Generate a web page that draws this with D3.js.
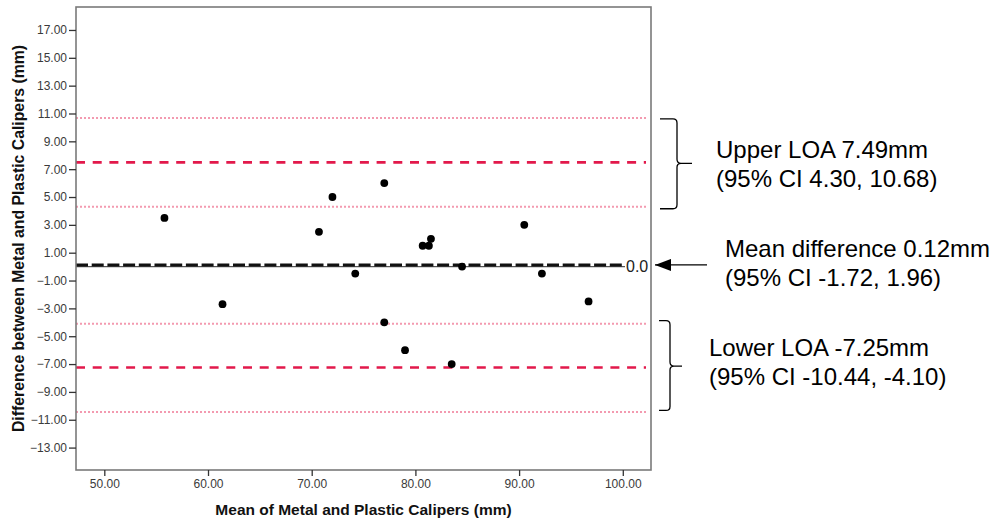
<!DOCTYPE html>
<html>
<head>
<meta charset="utf-8">
<script src="https://cdn.jsdelivr.net/npm/d3@7"></script>
<style>
  html, body { margin: 0; padding: 0; background: #fff; }
  svg { display: block; font-family: "Liberation Sans", Arial, sans-serif; }
</style>
</head>
<body>
<svg id="chart" width="992" height="521"></svg>
<script>
// ---- data ----
const meanVals = [55.8, 61.4, 70.7, 72.0, 77.0, 74.2, 77.0, 79.0, 83.5, 80.7, 81.3, 81.5, 84.5, 90.5, 92.2, 96.7];
const diffVals = [3.5, -2.7, 2.5, 5.0, 6.0, -0.5, -4.0, -6.0, -7.0, 1.5, 1.5, 2.0, 0.0, 3.0, -0.5, -2.5];
const xTicks = [50, 60, 70, 80, 90, 100];
const yTicks = [17, 15, 13, 11, 9, 7, 5, 3, 1, -1, -3, -5, -7, -9, -11, -13];
const meanDiff = 0.12;
const meanCI = [-1.72, 1.96];
const upperLOA = 7.49;
const upperCI = [4.30, 10.68];
const lowerLOA = -7.25;
const lowerCI = [-10.44, -4.10];
const refValue = 0;
const xTitle = "Mean of Metal and Plastic Calipers (mm)";
const yTitle = "Difference between Metal and Plastic Calipers (mm)";
const upperText = ["Upper LOA 7.49mm", "(95% CI 4.30, 10.68)"];
const meanText = ["Mean difference 0.12mm", "(95% CI -1.72, 1.96)"];
const lowerText = ["Lower LOA -7.25mm", "(95% CI -10.44, -4.10)"];

// ---- layout ----
const frame = { left: 76, right: 651, top: 7, bottom: 470 };
const x = d3.scaleLinear().domain([47.27, 102.72]).range([frame.left, frame.right]);
const y = d3.scaleLinear().domain([18.65, -14.61]).range([frame.top, frame.bottom]);

const svg = d3.select("#chart");
const lineEnd = 646;

// reference lines
function hline(v, color, width, dash, x2) {
  svg.append("line")
    .attr("x1", frame.left).attr("x2", x2 || lineEnd)
    .attr("y1", y(v)).attr("y2", y(v))
    .attr("stroke", color).attr("stroke-width", width)
    .attr("stroke-dasharray", dash || null);
}
[upperCI[0], upperCI[1], lowerCI[0], lowerCI[1]].forEach(v => hline(v, "#f39ab0", 2, "2,2"));
[upperLOA, lowerLOA].forEach(v => hline(v, "#e2194b", 2.6, "9,7.7"));
hline(refValue, "#555", 1.2, null, 625);
hline(meanDiff, "#111", 3, "12,3.7", 625);

// ref line label
svg.append("text")
  .attr("x", 626).attr("y", y(refValue) + 5.5)
  .attr("font-size", 16).attr("fill", "#222")
  .text(d3.format(".1f")(refValue));

// frame
svg.append("rect")
  .attr("x", frame.left).attr("y", frame.top)
  .attr("width", frame.right - frame.left).attr("height", frame.bottom - frame.top)
  .attr("fill", "none").attr("stroke", "#7a7a7a").attr("stroke-width", 1.6);

// axes
const yAxis = d3.axisLeft(y).tickValues(yTicks).tickFormat(d3.format(".2f"))
  .tickSize(7).tickPadding(2).tickSizeOuter(0);
const gy = svg.append("g").attr("transform", `translate(${frame.left},0)`).call(yAxis);
gy.select(".domain").remove();
gy.selectAll(".tick line").attr("stroke", "#333").attr("stroke-width", 1.3);
gy.selectAll(".tick text").attr("fill", "#3a3a3a").attr("font-size", 12)
  .attr("font-family", "'Liberation Sans', Arial, sans-serif");

const xAxis = d3.axisBottom(x).tickValues(xTicks).tickFormat(d3.format(".2f"))
  .tickSize(6).tickPadding(3).tickSizeOuter(0);
const gx = svg.append("g").attr("transform", `translate(0,${frame.bottom})`).call(xAxis);
gx.select(".domain").remove();
gx.selectAll(".tick line").attr("stroke", "#333").attr("stroke-width", 1.3);
gx.selectAll(".tick text").attr("fill", "#3a3a3a").attr("font-size", 12)
  .attr("font-family", "'Liberation Sans', Arial, sans-serif");

// axis titles
svg.append("text")
  .attr("x", (frame.left + frame.right) / 2).attr("y", 515)
  .attr("text-anchor", "middle").attr("font-weight", "bold").attr("font-size", 15.5)
  .attr("fill", "#111").text(xTitle);
svg.append("text")
  .attr("transform", `translate(24,${(frame.top + frame.bottom) / 2}) rotate(-90)`)
  .attr("text-anchor", "middle").attr("font-weight", "bold").attr("font-size", 15.8)
  .attr("fill", "#111").text(yTitle);

// points
svg.append("g").selectAll("circle")
  .data(meanVals.map((m, i) => [m, diffVals[i]]))
  .join("circle")
  .attr("cx", d => x(d[0])).attr("cy", d => y(d[1]))
  .attr("r", 3.9).attr("fill", "#000");

// braces
function brace(xl, xv, xt, top, mid, bot) {
  const r = 4;
  const p = d3.path();
  p.moveTo(xl, top);
  p.lineTo(xv - r, top);
  p.quadraticCurveTo(xv, top, xv, top + r);
  p.lineTo(xv, mid - r);
  p.quadraticCurveTo(xv, mid, xv + r, mid);
  p.lineTo(xt, mid);
  p.moveTo(xv + r, mid);
  p.quadraticCurveTo(xv, mid, xv, mid + r);
  p.lineTo(xv, bot - r);
  p.quadraticCurveTo(xv, bot, xv - r, bot);
  p.lineTo(xl, bot);
  svg.append("path").attr("d", p.toString())
    .attr("fill", "none").attr("stroke", "#000").attr("stroke-width", 1.3);
}
brace(660, 677, 692, y(upperCI[1]) + 1, y(upperLOA) + 1, y(upperCI[0]) + 2);
brace(659, 670, 682, y(lowerCI[1]) - 3, y(lowerLOA) - 1.5, y(lowerCI[0]) - 1.5);

// arrow to mean line
svg.append("defs").append("marker")
  .attr("id", "arrow").attr("viewBox", "0 0 16 12")
  .attr("refX", 16).attr("refY", 6)
  .attr("markerWidth", 16).attr("markerHeight", 12)
  .attr("markerUnits", "userSpaceOnUse").attr("orient", "auto")
  .append("path").attr("d", "M0,0 L16,6 L0,12 Z").attr("fill", "#000");
svg.append("line")
  .attr("x1", 707).attr("x2", 655)
  .attr("y1", y(meanDiff)).attr("y2", y(meanDiff))
  .attr("stroke", "#000").attr("stroke-width", 1.3)
  .attr("marker-end", "url(#arrow)");

// annotation texts
function textBlock(lines, xPos, baseline) {
  const t = svg.append("text").attr("x", xPos).attr("y", baseline)
    .attr("font-size", 24).attr("fill", "#000");
  lines.forEach((s, i) => {
    t.append("tspan").attr("x", xPos).attr("dy", i === 0 ? 0 : 28.5).text(s);
  });
}
textBlock(upperText, 716, 158);
textBlock(meanText, 725, 257);
textBlock(lowerText, 709, 356);
</script>
</body>
</html>
